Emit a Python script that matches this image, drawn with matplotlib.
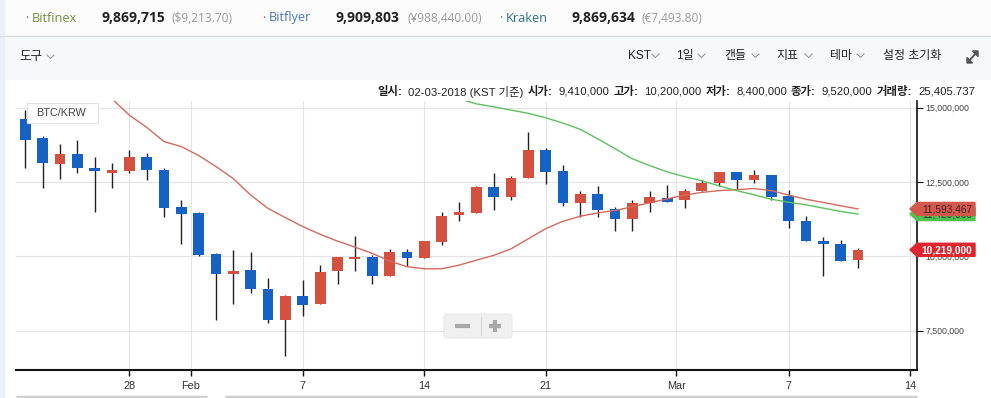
import numpy as np
import pandas as pd
import matplotlib
matplotlib.use("Agg")
import matplotlib.pyplot as plt
from matplotlib.patches import Rectangle, FancyBboxPatch, Polygon

KR = ['Liberation Sans', 'Noto Sans CJK KR', 'DejaVu Sans']
plt.rcParams['font.family'] = KR

# 일봉 (단위: 백만 원), 2018-01-22 ~ 2018-03-11
start = "2018-01-22"
opens = [14.62, 13.97, 13.12, 13.44, 12.97, 12.81, 12.88, 13.34, 12.90, 11.66,
         11.46, 10.08, 9.41, 9.54, 8.90, 7.84, 8.67, 8.41, 9.50, 9.90,
         9.99, 9.33, 10.16, 9.94, 10.47, 11.39, 11.45, 12.32, 11.99, 12.65,
         13.56, 12.86, 11.79, 12.08, 11.58, 11.25, 11.78, 11.97, 11.88, 12.21,
         12.45, 12.84, 12.58, 12.73, 12.03, 11.18, 10.52, 10.42, 9.86]
highs = [14.92, 14.05, 13.78, 13.91, 13.34, 13.14, 13.58, 13.48, 12.96, 11.89,
         11.49, 10.11, 10.20, 10.15, 9.27, 8.71, 9.20, 9.71, 9.96, 10.68,
         10.06, 10.23, 10.23, 10.53, 11.49, 11.81, 12.35, 12.79, 12.69, 14.18,
         13.66, 13.06, 12.18, 12.38, 11.66, 11.91, 12.18, 12.39, 12.27, 12.57,
         12.84, 12.84, 12.91, 12.73, 12.23, 11.36, 10.66, 10.56, 10.29]
lows = [12.98, 12.31, 12.61, 12.81, 11.50, 12.31, 12.81, 12.58, 11.33, 10.43,
        10.02, 7.84, 8.40, 8.78, 7.75, 6.66, 8.00, 8.41, 9.07, 9.50,
        9.07, 9.33, 9.67, 9.94, 10.38, 11.18, 11.45, 11.55, 11.89, 12.65,
        12.43, 11.69, 11.33, 11.33, 10.85, 10.85, 11.49, 11.81, 11.61, 12.20,
        12.35, 12.27, 12.48, 11.90, 10.94, 10.50, 9.32, 9.83, 9.59]
closes = [13.91, 13.15, 13.44, 12.98, 12.88, 12.90, 13.34, 12.91, 11.64, 11.43,
          10.04, 9.42, 9.52, 8.91, 7.84, 8.67, 8.37, 9.47, 9.96, 9.99,
          9.33, 10.16, 9.94, 10.50, 11.37, 11.48, 12.32, 11.99, 12.65, 13.56,
          12.83, 11.79, 12.08, 11.55, 11.25, 11.78, 11.98, 11.84, 12.20, 12.46,
          12.84, 12.58, 12.73, 12.01, 11.20, 10.52, 10.43, 9.85, 10.219]

# 이동평균선 (화면에서 읽은 값)
ma_red_start = "2018-01-27"
ma_red = [15.30, 14.75, 14.34, 13.86, 13.69, 13.39, 13.02, 12.61, 12.06, 11.61,
          11.30, 11.00, 10.74, 10.51, 10.31, 10.10, 9.84, 9.65, 9.58, 9.58,
          9.70, 9.87, 10.03, 10.25, 10.59, 10.93, 11.18, 11.35, 11.46, 11.54,
          11.67, 11.80, 11.93, 12.06, 12.15, 12.21, 12.24, 12.28, 12.21, 12.06,
          11.92, 11.81, 11.70, 11.593467]
ma_green_start = "2018-02-16"
ma_green = [15.30, 15.13, 15.03, 14.92, 14.81, 14.66, 14.48, 14.27, 13.95, 13.62,
            13.28, 13.05, 12.84, 12.68, 12.54, 12.37, 12.21, 12.07, 11.92, 11.82,
            11.73, 11.62, 11.51, 11.42]

tick_dates = ["2018-01-28", "2018-02-01", "2018-02-07", "2018-02-14",
              "2018-02-21", "2018-03-01", "2018-03-07", "2018-03-14"]
tick_labels = ["28", "Feb", "7", "14", "21", "Mar", "7", "14"]
y_ticks = [7500000, 10000000, 12500000, 15000000]

BLUE = '#1662c4'
RED = '#d4513f'

W, H = 991, 398
fig = plt.figure(figsize=(W / 100, H / 100), dpi=100)

# 배경용 축 (픽셀 좌표)
bg = fig.add_axes([0, 0, 1, 1], zorder=0)
bg.set_xlim(0, W)
bg.set_ylim(H, 0)
bg.axis('off')
bg.add_patch(Rectangle((0, 0), W, 35, color='#fcfcfd'))
bg.add_patch(Rectangle((0, 35), W, 45, color='#f7f8f9'))
bg.axhline(35.5, color='#dcdde0', lw=1)
bg.add_patch(Rectangle((0, 80), W, H - 80, color='white'))
bg.add_patch(Rectangle((0, 0), 4, H, color='#eceff5'))
bg.plot([16, 207], [396.5, 396.5], color='#cfcfcf', lw=2.5, solid_capstyle='butt')
bg.plot([225, 917], [396.5, 396.5], color='#cfcfcf', lw=2.5, solid_capstyle='butt')

# 메인 차트
ax = fig.add_axes([16 / W, (H - 370) / H, (917 - 16) / W, (370 - 101) / H], zorder=1)
ax.patch.set_visible(False)

t0 = pd.Timestamp(start)
x = np.arange(len(opens))
o = np.array(opens) * 1e6
c = np.array(closes) * 1e6
hi = np.array(highs) * 1e6
lo = np.array(lows) * 1e6
colors = [RED if cc >= oo else BLUE for oo, cc in zip(o, c)]

ax.vlines(x, lo, hi, color='#222222', lw=1, zorder=2)
ax.bar(x, np.abs(c - o), bottom=np.minimum(o, c), width=0.62, color=colors, zorder=3)

xr = (pd.Timestamp(ma_red_start) - t0).days + np.arange(len(ma_red))
ax.plot(xr, np.array(ma_red) * 1e6, color='#d8695d', lw=1, zorder=4)
xg = (pd.Timestamp(ma_green_start) - t0).days + np.arange(len(ma_green))
ax.plot(xg, np.array(ma_green) * 1e6, color='#5cc25c', lw=1, zorder=4)

ax.set_xlim(-0.53, 51.4)
ax.set_ylim(6.174e6, 15.225e6)

# 월 눈금은 반나절 앞으로 찍힌다
tick_x = [(pd.Timestamp(d) - t0).days - (0.47 if l.isalpha() else 0)
          for d, l in zip(tick_dates, tick_labels)]
ax.set_xticks(tick_x)
ax.set_xticklabels(tick_labels, fontsize=7.8, color='#333333',
                   family=['Liberation Sans Narrow', 'Liberation Sans'])
ax.set_yticks(y_ticks)
ax.set_yticklabels(['{:,}'.format(v) for v in y_ticks], fontsize=6.3, color='#444444')
ax.yaxis.tick_right()
ax.tick_params(axis='x', direction='out', length=4, width=1, pad=4, color='#111111')
ax.tick_params(axis='y', direction='out', length=4, width=0.8, pad=2, color='#111111')
ax.grid(True, color='#e4e4e4', lw=0.8, zorder=0)
for s in ['top', 'left']:
    ax.spines[s].set_visible(False)
ax.spines['bottom'].set_linewidth(1.5)
ax.spines['bottom'].set_color('#111111')
ax.spines['right'].set_linewidth(1.2)
ax.spines['right'].set_color('#111111')

# 위쪽 UI 레이어
top = fig.add_axes([0, 0, 1, 1], zorder=3)
top.set_xlim(0, W)
top.set_ylim(H, 0)
top.axis('off')


def ypix(v):
    return H - ax.transData.transform((0, v))[1]


def tag(v, text, face, tcolor, z, weight='normal'):
    yc = ypix(v)
    hh = 6.5
    top.add_patch(Polygon([(910, yc), (917, yc - hh), (975, yc - hh), (975, yc + hh),
                           (917, yc + hh)], closed=True, color=face, zorder=z,
                          joinstyle='round'))
    top.text(947, yc + 0.5, text, ha='center', va='center', fontsize=7.3,
             color=tcolor, fontweight=weight, zorder=z + 0.5)


tag(ma_green[-1] * 1e6, '{:,}'.format(int(ma_green[-1] * 1e6)), '#4fc24f', '#333333', 5)
tag(ma_red[-1] * 1e6, '{:,}'.format(int(round(ma_red[-1] * 1e6))), '#d4584c', '#3a2a28', 6)
tag(closes[-1] * 1e6, '{:,}'.format(int(round(closes[-1] * 1e6))), '#e0252f', 'white', 7,
    'bold')

# BTC/KRW 박스
top.add_patch(FancyBboxPatch((27, 102.5), 71, 20, boxstyle='square,pad=0',
                             fc='white', ec='#e2e2e2', lw=0.8))
top.text(36, 113, 'BTC/KRW', fontsize=7.8, color='#444444', va='center')

# 확대/축소 버튼
top.add_patch(FancyBboxPatch((444, 314), 68, 24, boxstyle='round,pad=0,rounding_size=3',
                             fc='#f0f0f0', ec='#e8e8e8', lw=0.8))
top.plot([455, 470], [325.5, 325.5], color='#a8a8a8', lw=3, solid_capstyle='butt')
top.plot([480.5, 480.5], [317, 335], color='#d6d6d6', lw=0.8)
top.plot([489, 501], [325.5, 325.5], color='#a8a8a8', lw=3, solid_capstyle='butt')
top.plot([495, 495], [319.5, 331.5], color='#a8a8a8', lw=3, solid_capstyle='butt')

# 시세 표시줄
OS = ['Open Sans', 'DejaVu Sans']
exch = [(25, 'Bitfinex', '#6f8f3c', 101, '9,869,715', 172, '($9,213.70)'),
        (262, 'Bitflyer', '#4a79b8', 336, '9,909,803', 407, '(¥988,440.00)'),
        (499, 'Kraken', '#2d7180', 571, '9,869,634', 641, '(€7,493.80)')]
for dx, name, col, nx, num, px, sub in exch:
    top.text(dx, 18, '·', fontsize=9, color='#777777', va='center', family=OS)
    top.text(dx + 7, 18, name, fontsize=9.2, color=col, va='center', family=OS)
    top.text(nx, 18, num, fontsize=10, color='#222222', va='center', family=OS,
             fontweight='bold')
    top.text(px, 18, sub, fontsize=8.6, color='#999999', va='center', family=OS)


def chevron(x0, y0):
    top.plot([x0, x0 + 3.5, x0 + 7], [y0 - 2, y0 + 1.5, y0 - 2], color='#999999', lw=0.8)


top.text(19, 57, '도구', fontsize=9, color='#222222', va='center', family=KR)
chevron(47, 57)
menu = [(628, 'KST', 652), (676, '1일', 698), (724, '캔들', 752), (776, '지표', 805),
        (830, '테마', 857), (883, '설정 초기화', None)]
for mx, label, cx in menu:
    top.text(mx, 56, label, fontsize=8.6, color='#222222', va='center', family=KR)
    if cx is not None:
        chevron(cx, 56)

# 전체화면 아이콘
top.plot([969, 976], [61, 53], color='#555555', lw=1.4)
top.add_patch(Polygon([(978, 51), (972.5, 51), (978, 56.5)], closed=True, color='#555555'))
top.add_patch(Polygon([(967, 63), (972.5, 63), (967, 57.5)], closed=True, color='#555555'))

# 정보 줄 (오른쪽 정렬)
info = [('일시:', True), ('02-03-2018 (KST 기준)', False), ('시가:', True), ('9,410,000', False),
        ('고가:', True), ('10,200,000', False), ('저가:', True), ('8,400,000', False),
        ('종가:', True), ('9,520,000', False), ('거래량:', True), ('25,405.737', False)]
r = fig.canvas.get_renderer()
xpos = 975
for s, bold in reversed(info):
    t = top.text(xpos, 92, s, fontsize=8.2, color='#222222', va='center', ha='right',
                 fontweight='bold' if bold else 'normal', family=KR)
    w = t.get_window_extent(r).width
    xpos -= w + (4 if bold else 6)

fig.savefig('out.png', dpi=100)
